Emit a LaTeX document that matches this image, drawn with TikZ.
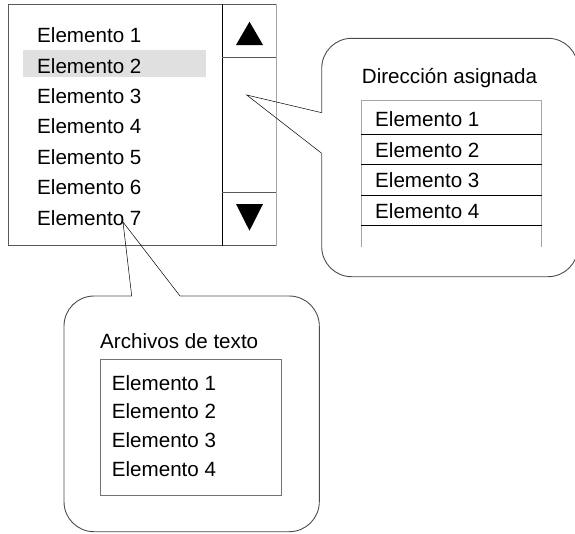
\documentclass[tikz,border=0pt]{standalone}
\usepackage{fontspec}
\setmainfont{Liberation Sans}
\begin{document}
\begin{tikzpicture}[x=1pt,y=-1pt,
  item/.style={anchor=base west,inner sep=0pt,font=\fontsize{20.6}{24}\selectfont},
  frame/.style={draw=black!65,line width=0.9pt},
  lightframe/.style={draw=black!35,line width=0.9pt},
  rule/.style={draw=black,line width=0.8pt},
  bubble/.style={draw=black!70,line width=0.9pt,rounded corners=30pt},
  pointer/.style={draw=black,line width=0.5pt}]
\useasboundingbox (0,0) rectangle (575,533);

% list box with scroll bar
\fill[black!12] (22.7,50) rectangle (206,76.7);
\draw[frame] (8.3,245.7) -- (8.3,4.3) -- (276,4.3);
\draw[frame] (8.3,245.7) -- (276,245.7);
\draw[lightframe] (276,4.3) -- (276,245.7);
\draw[rule] (222,4.3) -- (222,245.7);
\draw[frame] (222,57.3) -- (276,57.3);
\draw[frame] (222,192.7) -- (276,192.7);
\fill (236,45) -- (263,45) -- (249.5,21.7) -- cycle;
\fill (236,204) -- (263,204) -- (249.5,230.7) -- cycle;

\foreach \i in {1,...,7}
  \node[item] (l\i) at (37,{42.7+30.4*(\i-1)}) {Elemento \i};

% callout to the right: assigned address
\coordinate (rtip) at (246.7,95);
\coordinate (ra) at (321.7,112.7);
\coordinate (rb) at (321.7,153.3);
\draw[bubble] (ra) -- (321.7,38.3) -- (578,38.3) -- (578,276.7) -- (321.7,276.7) -- (rb);
\draw[pointer] (ra) -- (rtip) -- (rb);
\node[item] (rt) at (361.7,83.3) {Dirección asignada};
\draw[lightframe] (361,100.7) -- (541.7,100.7);
\draw[lightframe] (361,100.7) -- (361,247.3);
\draw[lightframe] (541.7,100.7) -- (541.7,247.3);
\foreach \y in {134,164.3,195,225.7}
  \draw[rule] (361,\y) -- (541.7,\y);
\node[item] (r1) at (375,126) {Elemento 1};
\node[item] (r2) at (375,157.2) {Elemento 2};
\node[item] (r3) at (375,187.7) {Elemento 3};
\node[item] (r4) at (375,218.3) {Elemento 4};

% callout below: text files
\coordinate (btip) at (123,222);
\coordinate (ba) at (131.7,296);
\coordinate (bb) at (180,296);
\draw[bubble] (ba) -- (64,296) -- (64,531.7) -- (319.3,531.7) -- (319.3,296) -- (bb);
\draw[pointer] (ba) -- (btip) -- (bb);
\node[item] (bt) at (100,348.3) {Archivos de texto};
\draw[frame,draw=black!55] (100,359.3) rectangle (281.7,495);
\foreach \i in {1,...,4}
  \node[item] (b\i) at (111.7,{390+28.9*(\i-1)}) {Elemento \i};
\end{tikzpicture}
\end{document}
